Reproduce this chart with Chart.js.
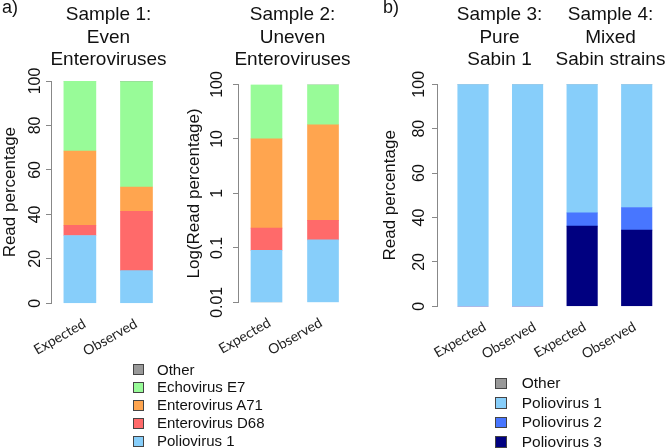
<!DOCTYPE html>
<html><head><meta charset="utf-8">
<script src="https://cdn.jsdelivr.net/npm/chart.js@4.4.1/dist/chart.umd.min.js"></script>
<style>
html,body{margin:0;padding:0;background:#fff;}
#wrap{position:relative;width:666px;height:448px;overflow:hidden;font-family:"Liberation Sans",Arial,sans-serif;color:#111;}
canvas{position:absolute;left:0;top:0;}
.t{position:absolute;top:3px;font-size:19px;line-height:22.5px;text-align:center;white-space:nowrap;transform:translateX(-50%);}
.pl{position:absolute;top:-2px;font-size:18px;line-height:18px;}
.sw{position:absolute;box-sizing:border-box;border:1px solid #444;}
.lt{position:absolute;}
</style></head>
<body><div id="wrap">
<canvas id="c1" width="666" height="448"></canvas>
<canvas id="c2" width="666" height="448"></canvas>
<canvas id="c3" width="666" height="448"></canvas>
<div class="pl" style="left:2px">a)</div>
<div class="pl" style="left:383px">b)</div>
<div class="t" style="left:108.5px">Sample 1:<br>Even<br>Enteroviruses</div>
<div class="t" style="left:292.5px">Sample 2:<br>Uneven<br>Enteroviruses</div>
<div class="t" style="left:499.5px">Sample 3:<br>Pure<br>Sabin 1</div>
<div class="t" style="left:610.5px">Sample 4:<br>Mixed<br>Sabin strains</div>
<div id="legA"></div>
<div id="legB"></div>
</div>
<script>
// ---- data ----
const categoriesA = ["Expected", "Observed"];
const categoriesB = ["Expected", "Observed", "Expected", "Observed"];

const seriesA = ["Poliovirus 1", "Enterovirus D68", "Enterovirus A71", "Echovirus E7", "Other"];
const seriesB = ["Poliovirus 3", "Poliovirus 2", "Poliovirus 1", "Other"];

// Sample 1 (Even Enteroviruses), read percentage
const s1Polio1 = [30.5, 14.7];
const s1D68    = [4.6, 26.7];
const s1A71    = [33.4, 10.9];
const s1E7     = [31.5, 47.4];
const s1Other  = [0, 0.3];

// Sample 2 (Uneven Enteroviruses), read percentage (log axis)
const s2Polio1 = [0.09, 0.14];
const s2D68    = [0.14, 0.18];
const s2A71    = [9.77, 17.9];
const s2E7     = [90.0, 81.2];
const s2Other  = [0, 0.58];

// Samples 3 and 4 (Sabin strains)
const bPolio3 = [0, 0, 36.1, 34.3];
const bPolio2 = [0, 0, 6.0, 10.2];
const bPolio1 = [100, 100, 57.9, 55.5];
const bOther  = [0, 0, 0, 0];

const linearTicks = [0, 20, 40, 60, 80, 100];
const linearTickLabels = ["0", "20", "40", "60", "80", "100"];
const logTicks = [0.01, 0.1, 1, 10, 100];
const logTickLabels = ["0.01", "0.1", "1", "10", "100"];

// ---- styles ----
const colorsA = ["#87CEFA", "#FF6A6A", "#FFA54F", "#98FB98", "#999999"];
const colorsB = ["#000080", "#4876FF", "#87CEFA", "#999999"];
const LABEL_BOX = 60;

function makeChart(id, c) {
  const rot = {
    id: 'rotLabels' + id,
    afterDraw(chart) {
      const ctx = chart.ctx, y = chart.scales.y;
      ctx.save();
      ctx.fillStyle = '#111';
      ctx.textAlign = 'center';
      ctx.textBaseline = 'middle';
      ctx.font = '16px "Liberation Sans", Arial, sans-serif';
      y.ticks.forEach((t, i) => {
        const py = y.getPixelForValue(t.value);
        ctx.save();
        ctx.translate(c.tickX, py);
        ctx.rotate(-Math.PI / 2);
        ctx.fillText(c.yLabels[i], 0, 0);
        ctx.restore();
      });
      ctx.font = '17px "Liberation Sans", Arial, sans-serif';
      ctx.translate(c.titleX, (y.top + y.bottom) / 2);
      ctx.rotate(-Math.PI / 2);
      ctx.fillText(c.yTitle, 0, 0);
      ctx.restore();
    }
  };
  return new Chart(document.getElementById(id), {
    type: 'bar',
    data: {
      datasets: c.values.map((arr, k) => ({
        label: c.names[k],
        data: arr.map((v, i) => ({ x: i, y: v })),
        backgroundColor: c.colors[k],
        borderWidth: 0,
        barThickness: c.barW
      }))
    },
    options: {
      responsive: false,
      animation: false,
      devicePixelRatio: 1,
      events: [],
      layout: { padding: { left: c.L - 6, right: 666 - c.R, top: c.T, bottom: 448 - c.B - LABEL_BOX } },
      plugins: { legend: { display: false }, tooltip: { enabled: false } },
      scales: {
        x: { type: 'linear', offset: false, min: c.xMin, max: c.xMax, stacked: true, display: false },
        x2: {
          type: 'linear', position: 'bottom', offset: false, min: c.lMin, max: c.lMax,
          grid: { display: false, offset: false }, border: { display: false },
          ticks: {
            autoSkip: false, minRotation: 30, maxRotation: 30, padding: 4,
            color: '#222', font: { family: 'Lato, "Open Sans", sans-serif', size: 14 },
            callback: (v, i) => c.cats[i]
          },
          afterBuildTicks(s) { s.ticks = c.cats.map((_, i) => ({ value: i })); },
          afterFit(s) { s.height = LABEL_BOX; s.paddingLeft = 0; s.paddingRight = 0; }
        },
        y: {
          type: c.yType, min: c.yTicks[0], max: c.yTicks[c.yTicks.length - 1], stacked: true,
          border: { display: true, color: '#888', width: 1 },
          grid: { display: true, drawOnChartArea: false, drawTicks: true, tickLength: 5, color: '#888' },
          ticks: { display: false },
          afterBuildTicks(s) { s.ticks = c.yTicks.map(v => ({ value: v })); },
          afterFit(s) { s.width = 6; }
        }
      }
    },
    plugins: [rot]
  });
}

makeChart('c1', {
  L: 51, R: 166.5, T: 81, B: 303.3, xMin: -0.51, xMax: 1.53, lMin: -0.65, lMax: 1.592,
  barW: 32, cats: categoriesA, names: seriesA, colors: colorsA,
  values: [s1Polio1, s1D68, s1A71, s1E7, s1Other],
  yType: 'linear', yTicks: linearTicks, yLabels: linearTickLabels,
  tickX: 36, titleX: 10, yTitle: 'Read percentage'
});
makeChart('c2', {
  L: 238, R: 351.5, T: 84.5, B: 302.3, xMin: -0.504, xMax: 1.504, lMin: -0.612, lMax: 1.592,
  barW: 31, cats: categoriesA, names: seriesA, colors: colorsA,
  values: [s2Polio1, s2D68, s2A71, s2E7, s2Other],
  yType: 'logarithmic', yTicks: logTicks, yLabels: logTickLabels,
  tickX: 218, titleX: 194, yTitle: 'Log(Read percentage)'
});
makeChart('c3', {
  L: 437, R: 666, T: 84.3, B: 306.3, xMin: -0.66, xMax: 3.537, lMin: -0.954, lMax: 3.626,
  barW: 30.5, cats: categoriesB, names: seriesB, colors: colorsB,
  values: [bPolio3, bPolio2, bPolio1, bOther],
  yType: 'linear', yTicks: linearTicks, yLabels: linearTickLabels,
  tickX: 420, titleX: 390, yTitle: 'Read percentage'
});

// ---- legends (top entry = top of stack) ----
function legend(elId, names, colors, x, y0, step, sw, textX, fontSize) {
  const el = document.getElementById(elId);
  const n = names.length;
  for (let j = 0; j < n; j++) {
    const k = n - 1 - j;
    const cy = y0 + j * step;
    const s = document.createElement('div');
    s.className = 'sw';
    s.style.cssText = `left:${x}px;top:${cy - sw / 2}px;width:${sw}px;height:${sw}px;background:${colors[k]}`;
    el.appendChild(s);
    const t = document.createElement('div');
    t.className = 'lt';
    t.textContent = names[k];
    t.style.cssText = `left:${textX}px;top:${cy - fontSize * 0.6}px;font-size:${fontSize}px;line-height:${fontSize * 1.2}px;white-space:nowrap`;
    el.appendChild(t);
  }
}
legend('legA', seriesA, colorsA, 133, 369.5, 17.9, 11, 157, 15);
legend('legB', seriesB, colorsB, 495, 383.3, 19.55, 11.5, 521.7, 15.5);
</script>
</body></html>
